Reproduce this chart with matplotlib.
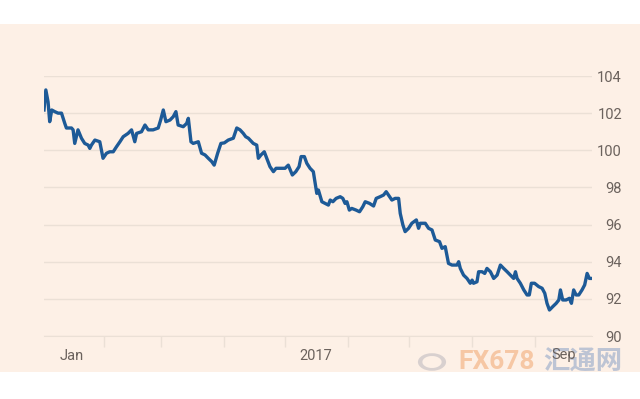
import matplotlib
matplotlib.use('Agg')
import matplotlib.pyplot as plt
import matplotlib.dates as mdates
from matplotlib.patches import Rectangle, Wedge
import datetime

# Dollar index, 2017 (days after 1 Jan, index level)
day = [1.6, 2.5, 3.6, 4.4, 5.4, 6.9, 8.5, 10.2, 11.8, 12.6, 15.1, 15.9, 16.7, 18.3, 20.0,
       21.6, 23.3, 24.1, 24.9, 26.6, 29.0, 30.6, 32.3, 33.9, 35.6, 37.2, 38.9, 40.5, 42.9,
       44.6, 46.2, 47.1, 49.5, 51.2, 52.8, 55.2, 57.7, 58.9, 60.2, 61.5, 63.5, 65.1, 66.4,
       67.5, 70.0, 71.7, 72.5, 73.8, 74.9, 77.4, 79.0, 80.7, 82.3, 84.0, 85.2, 86.9, 88.5,
       90.2, 92.1, 94.6, 96.3, 97.9, 99.5, 100.7, 102.0, 104.4, 106.1, 106.9, 108.2, 109.8,
       111.0, 112.6, 114.3, 115.6, 117.6, 120.0, 121.6, 123.6, 125.3, 126.9, 127.9, 129.5,
       130.7, 132.3, 133.9, 134.8, 135.6, 136.4, 138.1, 139.7, 141.3, 142.2, 143.5, 145.1,
       147.1, 148.4, 149.5, 150.4, 151.6, 152.8, 154.9, 156.6, 158.2, 159.4, 161.5, 163.5,
       164.8, 166.7, 168.4, 169.7, 170.8, 172.5, 174.1, 175.8, 176.6, 177.9, 179.0, 180.7,
       182.3, 184.5, 185.6, 186.4, 188.9, 190.5, 192.2, 193.8, 195.9, 197.1, 198.7, 200.3,
       202.0, 204.5, 205.3, 206.1, 207.7, 209.4, 211.0, 211.9, 212.6, 214.3, 215.1, 216.8,
       218.1, 219.2, 220.9, 222.5, 224.2, 225.8, 227.4, 229.1, 230.7, 232.3, 233.2, 234.0,
       235.6, 237.3, 238.9, 240.0, 241.0, 242.6, 244.6, 246.3, 247.6, 248.7, 249.9, 251.5,
       253.2, 254.5, 255.3, 256.4, 258.1, 259.7, 260.7, 261.8, 263.0, 264.3, 265.9, 267.2,
       268.4, 269.5, 270.8]
index = [102.17, 103.25, 102.6, 101.54, 102.17, 102.08, 102.0, 102.0, 101.45, 101.2, 101.2,
         101.1, 100.37, 101.1, 100.65, 100.37, 100.28, 100.1, 100.28, 100.55, 100.46, 99.57,
         99.84, 99.92, 99.92, 100.19, 100.46, 100.73, 100.91, 101.1, 100.46, 100.91, 101.0,
         101.36, 101.1, 101.1, 101.2, 101.63, 102.17, 101.54, 101.63, 101.81, 102.08,
         101.36, 101.27, 101.45, 101.72, 100.46, 100.37, 100.46, 99.84, 99.75, 99.57, 99.39,
         99.2, 99.84, 100.37, 100.4, 100.55, 100.65, 101.2, 101.1, 100.91, 100.73, 100.65,
         100.37, 100.28, 99.57, 99.75, 99.92, 99.57, 99.12, 98.85, 99.03, 99.03, 99.03, 99.2,
         98.67, 98.85, 99.12, 99.66, 99.66, 99.3, 99.03, 98.85, 98.22, 97.68, 97.86, 97.23,
         97.14, 97.05, 97.32, 97.23, 97.41, 97.5, 97.41, 97.14, 97.23, 96.78, 96.87, 96.78,
         96.69, 96.96, 97.23, 97.14, 97.0, 97.41, 97.5, 97.59, 97.77, 97.59, 97.32, 97.41,
         97.41, 96.6, 95.98, 95.62, 95.8, 96.07, 96.25, 95.8, 96.07, 96.07, 95.8, 95.71,
         95.17, 95.08, 94.72, 94.81, 93.91, 93.82, 93.82, 94.0, 93.64, 93.28, 93.1, 92.84,
         93.01, 92.84, 92.92, 93.46, 93.46, 93.37, 93.64, 93.46, 93.1, 93.28, 93.82, 93.64,
         93.46, 93.28, 93.1, 93.46, 93.1, 92.84, 92.48, 92.21, 92.21, 92.84, 92.84, 92.66,
         92.57, 92.3, 91.76, 91.4, 91.58, 91.76, 91.94, 92.48, 91.94, 91.94, 92.03, 91.76,
         92.48, 92.21, 92.21, 92.48, 92.75, 93.37, 93.1, 93.1]

y_ticks = [90, 92, 94, 96, 98, 100, 102, 104]
x_labels = ['Jan', '2017', 'Sep']
x_label_dates = ['2017-01-16', '2017-05-16', '2017-09-15']

bg = '#fdf0e6'
grid = '#ebe0d6'
text = '#6b625d'
blue = '#1d5a97'

start = datetime.datetime(2017, 1, 1)
dates = [start + datetime.timedelta(days=d) for d in day]

plt.rcParams['font.family'] = ['Roboto', 'DejaVu Sans']
fig = plt.figure(figsize=(6.4, 3.99), dpi=100, facecolor='white')
fig.patches.append(Rectangle((0, 27 / 399), 1, 348 / 399, transform=fig.transFigure,
                             facecolor=bg, edgecolor='none', zorder=-10))

# faint watermark at the bottom right, drawn under the axes
fig.add_artist(Wedge((432 / 640, 37 / 399), 0.022, 0, 360, width=0.007,
                     transform=fig.transFigure, facecolor='#c9c3c6', alpha=0.7, zorder=-5))
fig.text(458 / 640, 37 / 399, 'FX678', fontsize=19, fontweight='bold', color='#f6c7a4',
         ha='left', va='center', zorder=-5, family=['Liberation Sans Narrow', 'Roboto'])
fig.text(543 / 640, 37 / 399, '汇通网', fontsize=19, fontweight='bold', color='#aebad0',
         alpha=0.8, ha='left', va='center', zorder=-5, family=['Noto Sans CJK SC'])

ax = fig.add_axes([44 / 640, 63 / 399, 548 / 640, 260 / 399])
ax.set_facecolor('none')
ax.plot(dates, index, color=blue, lw=2.4, solid_joinstyle='round', zorder=3)

ax.set_ylim(90, 104)
ax.set_xlim(dates[0], dates[-1])
ax.set_yticks(y_ticks)
ax.yaxis.tick_right()
ax.tick_params(axis='y', length=0, pad=21.6, labelsize=10.5, labelcolor=text)
for lab in ax.get_yticklabels():
    lab.set_horizontalalignment('right')
ax.grid(axis='y', color=grid, lw=1)

ax.xaxis.set_major_locator(mdates.MonthLocator(bymonth=range(2, 10)))
ax.xaxis.set_major_formatter(plt.NullFormatter())
ax.set_xticks([mdates.datestr2num(d) for d in x_label_dates], minor=True)
ax.set_xticklabels(x_labels, minor=True)
ax.tick_params(axis='x', which='major', length=8, width=1, color=grid)
ax.tick_params(axis='x', which='minor', length=0, pad=9, labelsize=10.5, labelcolor=text)

for s in ['top', 'right', 'left']:
    ax.spines[s].set_visible(False)
ax.spines['bottom'].set_color(grid)

fig.savefig('out.png', dpi=100, facecolor='white')
